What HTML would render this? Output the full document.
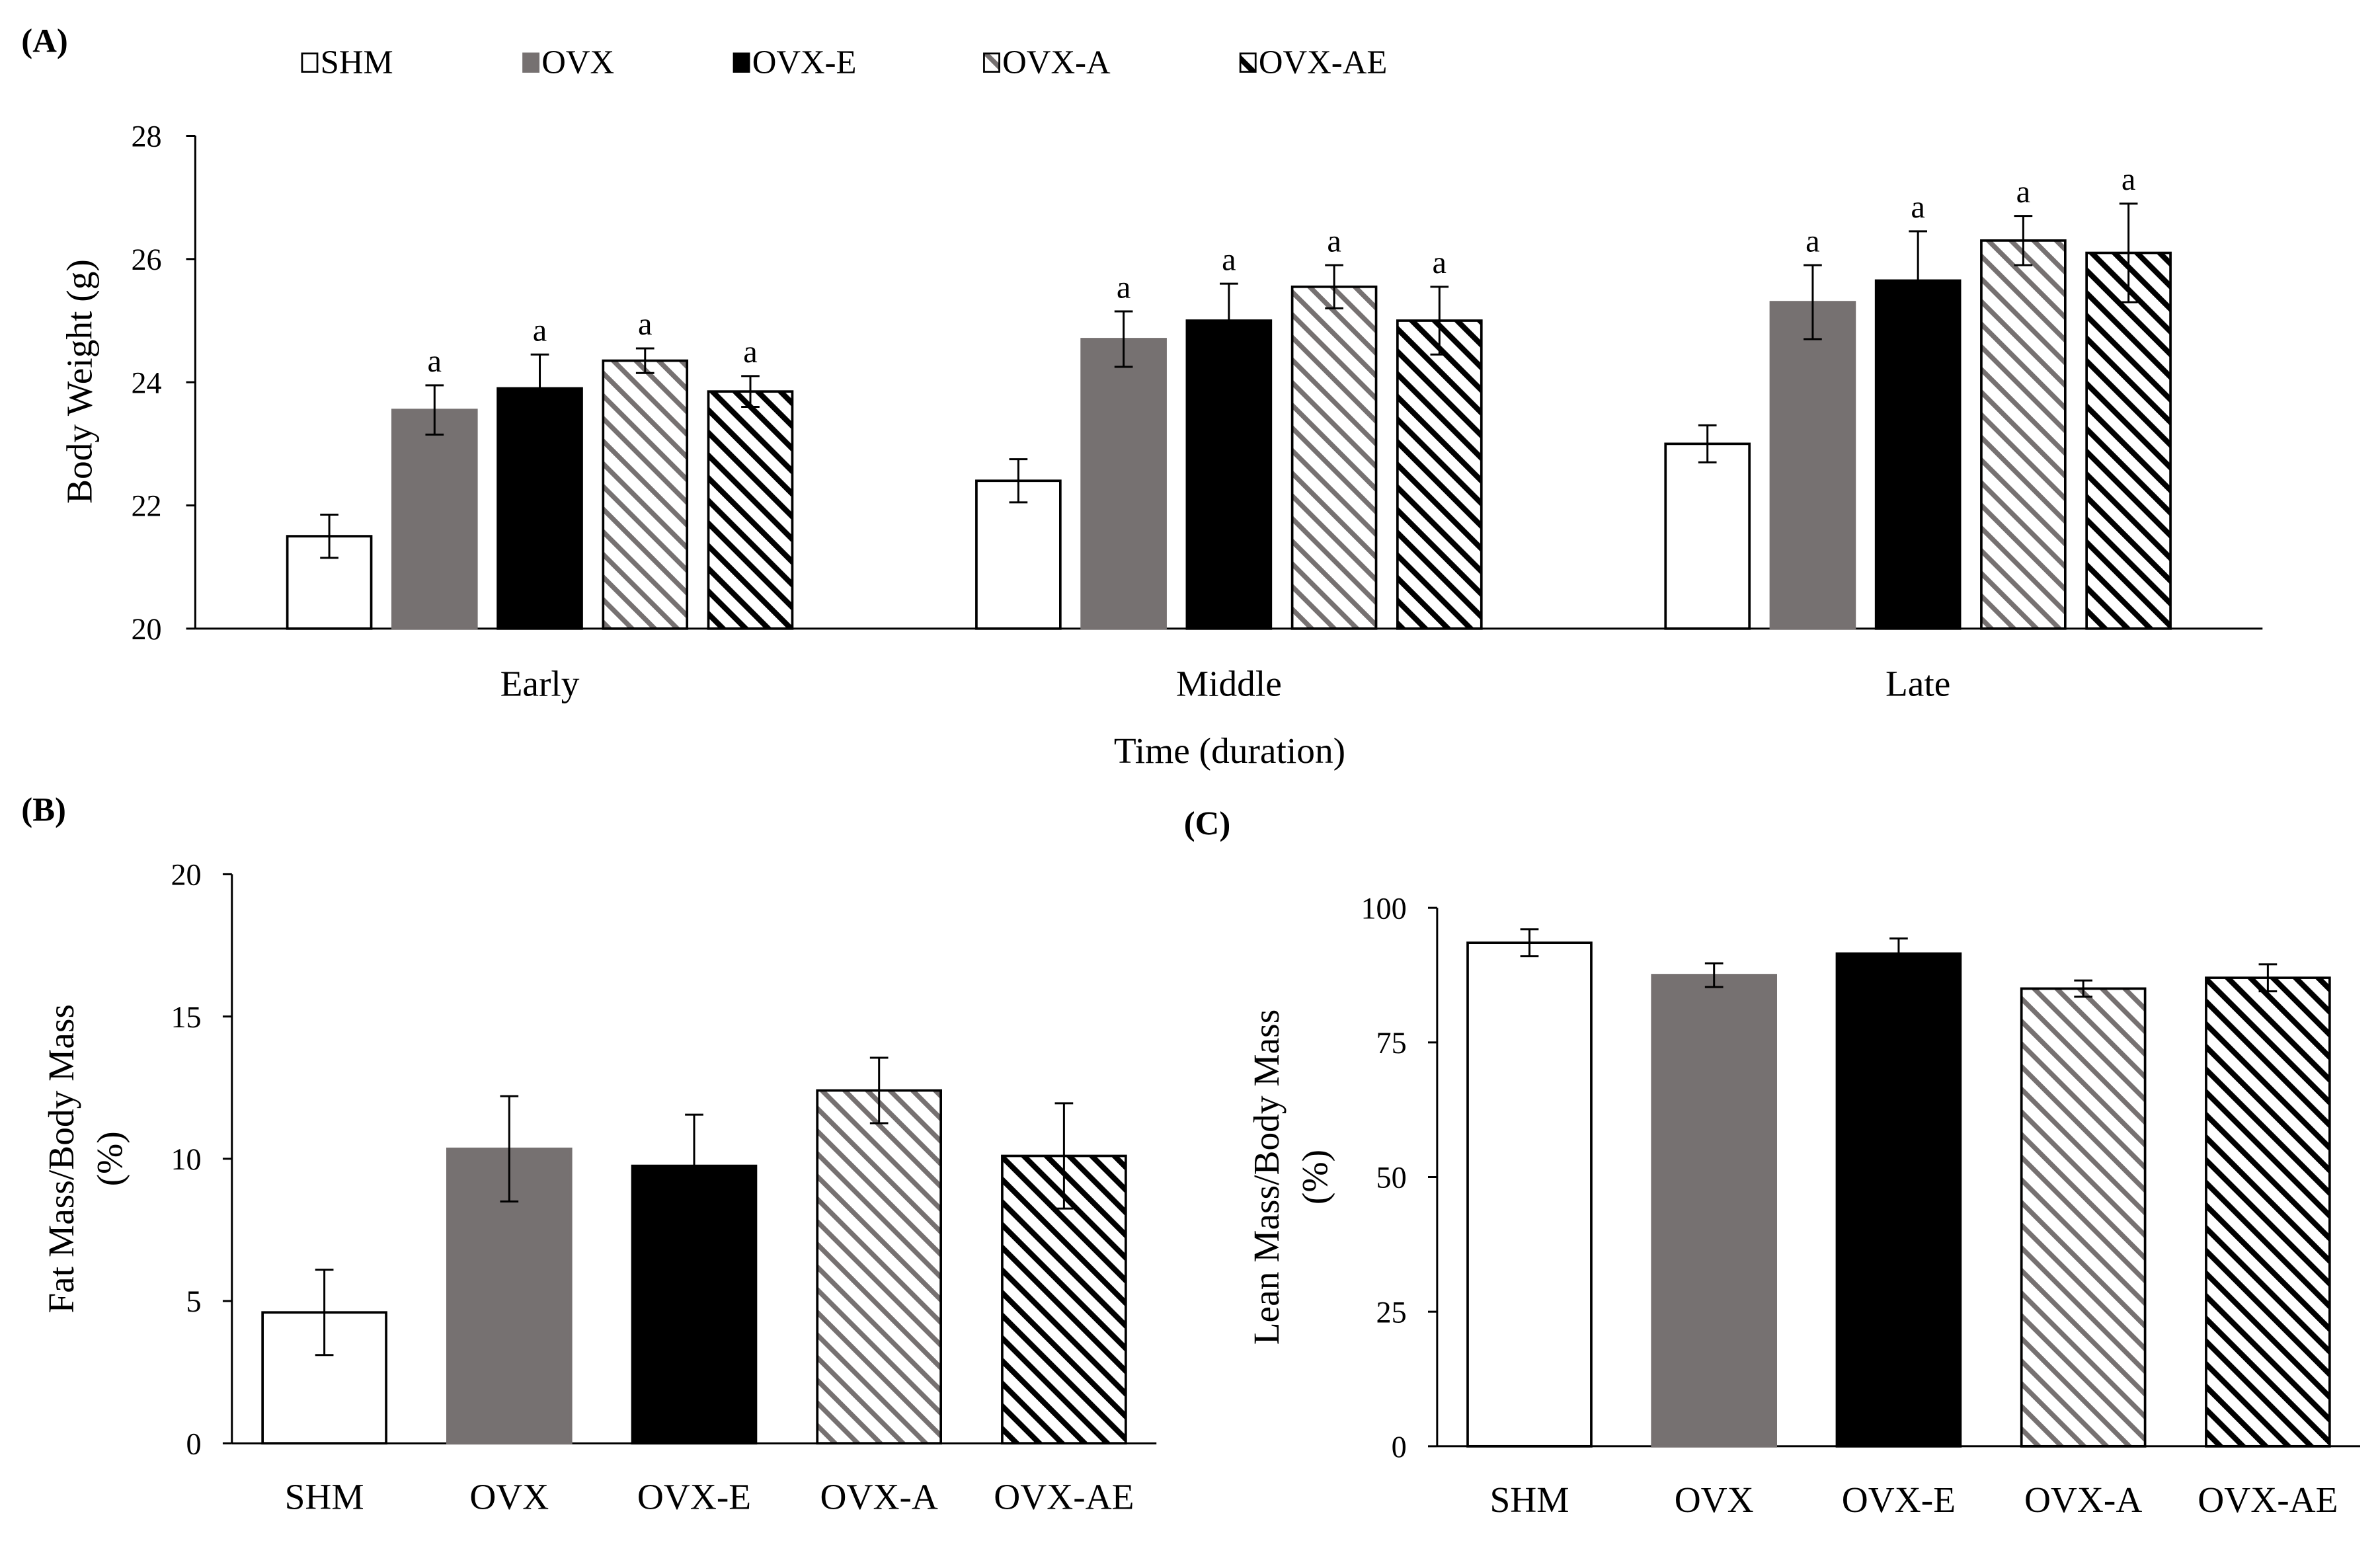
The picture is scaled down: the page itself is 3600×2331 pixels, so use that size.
<!DOCTYPE html>
<html><head><meta charset="utf-8"><style>
html,body{margin:0;padding:0;background:#fff;}
svg{display:block;font-family:"Liberation Serif",serif;}
</style></head><body>
<svg id="fig" width="3600" height="2331" viewBox="0 0 1560 1010" xmlns="http://www.w3.org/2000/svg">
<defs>
<pattern id="hatchGrey" patternUnits="userSpaceOnUse" width="10.5" height="10.5" patternTransform="rotate(-45)">
<rect width="10.5" height="10.5" fill="#fff"/><rect x="0" y="0" width="3.2" height="10.5" fill="#767171"/></pattern>
<pattern id="hatchBlack" patternUnits="userSpaceOnUse" width="10.5" height="10.5" patternTransform="rotate(-45)">
<rect width="10.5" height="10.5" fill="#fff"/><rect x="0" y="0" width="3.6" height="10.5" fill="#000"/></pattern>
</defs>
<g id="root"></g>
</svg>
<script>
const groupsA = ["Early","Middle","Late"];
const seriesNames = ["SHM","OVX","OVX-E","OVX-A","OVX-AE"];
const valuesA = [[21.5,23.55,23.9,24.35,23.85],[22.4,24.7,25.0,25.55,25.0],[23.0,25.3,25.65,26.3,26.1]];
const errorsA = [[0.35,0.4,0.55,0.2,0.25],[0.35,0.45,0.6,0.35,0.55],[0.3,0.6,0.8,0.4,0.8]];
const sigA = [["","a","a","a","a"],["","a","a","a","a"],["","a","a","a","a"]];
const ticksA = [20,22,24,26,28];
const valuesB = [4.6,10.35,9.75,12.4,10.1];
const errorsB = [1.5,1.85,1.8,1.15,1.85];
const ticksB = [0,5,10,15,20];
const valuesC = [93.5,87.5,91.5,85,87];
const errorsC = [2.5,2.2,2.8,1.5,2.5];
const ticksC = [0,25,50,75,100];

const NS="http://www.w3.org/2000/svg";
const root=document.getElementById('root');
const fills=["#fff","#767171","#000","url(#hatchGrey)","url(#hatchBlack)"];
function mk(tag,attrs,parent,text){const e=document.createElementNS(NS,tag);for(const k in attrs)e.setAttribute(k,attrs[k]);if(text!==undefined)e.textContent=text;(parent||root).appendChild(e);return e;}
function errBar(g,cx,yTop,yBot,w){
  const e=mk('g',{},g);
  
  
  const col="#000";
  mk('line',{x1:cx,x2:cx,y1:yTop,y2:yBot,stroke:col,'stroke-width':1.3},e);
  mk('line',{x1:cx-w,x2:cx+w,y1:yTop,y2:yTop,stroke:col,'stroke-width':1.3},e);
  mk('line',{x1:cx-w,x2:cx+w,y1:yBot,y2:yBot,stroke:col,'stroke-width':1.3},e);
}
function bar(g,x,y,w,h,i){
  const r=mk('rect',{x:x,y:y,width:w,height:h,fill:fills[i],stroke:i==1?'#767171':'#000','stroke-width':1.6},g);
  
  
}

// ---------- Panel A ----------
const gA=mk('g',{});


const pa=mk('text',{x:14,y:34,'font-size':22,'font-weight':'bold'},gA,'(A)');


const legX=[198,343,481,645,813];
seriesNames.forEach((n,i)=>{
  const lg=mk('g',{},gA);
  
  
  mk('rect',{x:legX[i],y:35,width:10,height:12,fill:fills[i],stroke:i==1?'#767171':'#000','stroke-width':1.2},lg);
  mk('text',{x:legX[i]+12,y:48,'font-size':22},lg,n);
});
const yA=v=>412-(v-20)*(412-89)/8;
const xA0=128,xA1=1483,grpW=(xA1-xA0)/3;
mk('line',{x1:xA0,x2:xA0,y1:89,y2:412,stroke:'#000','stroke-width':1.3},gA);
mk('line',{x1:xA0,x2:xA1,y1:412,y2:412,stroke:'#000','stroke-width':1.3},gA);
ticksA.forEach(t=>{
  mk('line',{x1:xA0-6,x2:xA0,y1:yA(t),y2:yA(t),stroke:'#000','stroke-width':1.3},gA);
  const tl=mk('text',{x:xA0-22,y:yA(t)+7,'font-size':20,'text-anchor':'end'},gA,t);
  
  
});
const yt=mk('text',{x:0,y:0,'font-size':24,'text-anchor':'middle',transform:'translate(60,250) rotate(-90)'},gA,'Body Weight (g)');


groupsA.forEach((g,gi)=>{
  const cx=xA0+grpW*(gi+0.5);
  const pitch=69,bw=55;
  valuesA[gi].forEach((v,i)=>{
    const bx=cx+(i-2)*pitch-bw/2;
    bar(gA,bx,yA(v),bw,412-yA(v),i);
    const top=yA(v+errorsA[gi][i]);
    errBar(gA,bx+bw/2,top,yA(v-errorsA[gi][i]),6);
    if(sigA[gi][i]){const s=mk('text',{x:bx+bw/2,y:top-9,'font-size':21,'text-anchor':'middle'},gA,sigA[gi][i]);
      
      }
  });
  const xl=mk('text',{x:cx,y:456,'font-size':24,'text-anchor':'middle'},gA,g);
  
  
});
const xt=mk('text',{x:806,y:500,'font-size':24,'text-anchor':'middle'},gA,'Time (duration)');



function panel(name,label,lx,ly,x0,x1,yBot,yTop,ticks,vals,errs,titleLines,tx){
  const g=mk('g',{});
  
  
  const pl=mk('text',{x:lx,y:ly,'font-size':22,'font-weight':'bold'},g,label);
  
  
  const max=ticks[ticks.length-1];
  const y=v=>yBot-v*(yBot-yTop)/max;
  mk('line',{x1:x0,x2:x0,y1:yTop,y2:yBot,stroke:'#000','stroke-width':1.3},g);
  mk('line',{x1:x0,x2:x1,y1:yBot,y2:yBot,stroke:'#000','stroke-width':1.3},g);
  ticks.forEach(t=>{
    mk('line',{x1:x0-6,x2:x0,y1:y(t),y2:y(t),stroke:'#000','stroke-width':1.3},g);
    const tl=mk('text',{x:x0-20,y:y(t)+7,'font-size':20,'text-anchor':'end'},g,t);
    
    
  });
  const pitch=(x1-x0)/vals.length,bw=81;
  vals.forEach((v,i)=>{
    const cx=x0+pitch*(i+0.5);
    bar(g,cx-bw/2,y(v),bw,yBot-y(v),i);
    errBar(g,cx,y(v+errs[i]),y(v-errs[i]),6);
    const xl=mk('text',{x:cx,y:yBot+43,'font-size':24,'text-anchor':'middle'},g,seriesNames[i]);
    
    
  });
  const cy=(yTop+yBot)/2;
  titleLines.forEach((t,k)=>{
    const tt=mk('text',{x:0,y:0,'font-size':24,'text-anchor':'middle',transform:`translate(${tx+k*32},${cy}) rotate(-90)`},g,t);
    
    
  });
}
panel('panel-b-fat-mass','(B)',14,538,152,758,946,573,ticksB,valuesB,errorsB,['Fat Mass/Body Mass','(%)'],48);
panel('panel-c-lean-mass','(C)',776,547,942,1547,948,595,ticksC,valuesC,errorsC,['Lean Mass/Body Mass','(%)'],838);
</script>
</body></html>
